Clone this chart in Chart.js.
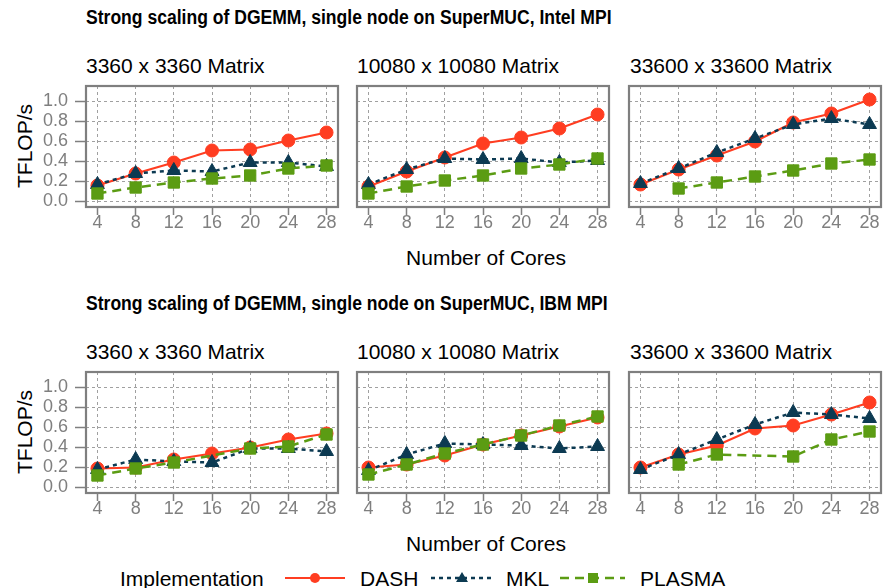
<!DOCTYPE html>
<html>
<head>
<meta charset="utf-8">
<script src="https://cdn.jsdelivr.net/npm/chart.js@4.4.1/dist/chart.umd.min.js"></script>
<style>
  html, body { margin: 0; padding: 0; background: #fff; }
  body { width: 888px; height: 588px; position: relative; overflow: hidden;
         font-family: "Liberation Sans", Arial, Helvetica, sans-serif; color: #000; }
  .txt { position: absolute; white-space: nowrap; line-height: 1; }
  .title { font-weight: bold; font-size: 19.5px; transform: scaleX(0.9); transform-origin: 0 50%; }
  .strip { font-size: 21px; }
  .ytitle { font-size: 21px; transform: translate(-50%, -50%) rotate(-90deg); }
  .xtitle { font-size: 21px; transform: translate(-50%, -50%); }
  canvas { position: absolute; }
  #legend { position: absolute; left: 120px; top: 565px; height: 24px; font-size: 21px; }
  #legend span, #legend svg { position: absolute; top: 0; }
</style>
</head>
<body>

<div class="txt title" style="left:86px; top:8px;">Strong scaling of DGEMM, single node on SuperMUC, Intel MPI</div>
<div class="txt strip" style="left:86px; top:55px;">3360 x 3360 Matrix</div>
<div class="txt strip" style="left:357px; top:55px;">10080 x 10080 Matrix</div>
<div class="txt strip" style="left:630px; top:55px;">33600 x 33600 Matrix</div>
<div class="txt ytitle" style="left:24px; top:146px;">TFLOP/s</div>
<div class="txt xtitle" style="left:486px; top:257px;">Number of Cores</div>

<div class="txt title" style="left:86px; top:294px;">Strong scaling of DGEMM, single node on SuperMUC, IBM MPI</div>
<div class="txt strip" style="left:86px; top:341px;">3360 x 3360 Matrix</div>
<div class="txt strip" style="left:357px; top:341px;">10080 x 10080 Matrix</div>
<div class="txt strip" style="left:630px; top:341px;">33600 x 33600 Matrix</div>
<div class="txt ytitle" style="left:24px; top:432px;">TFLOP/s</div>
<div class="txt xtitle" style="left:486px; top:543px;">Number of Cores</div>

<div id="legend">
  <span style="left:0px; top:2px;">Implementation</span>
  <svg style="left:165px; top:2px;" width="62" height="22"><line x1="0" y1="11" x2="60" y2="11" stroke="#ff3d21" stroke-width="2.2"/><circle cx="30" cy="11" r="5" fill="#ff3d21"/></svg>
  <span style="left:240px; top:2px;">DASH</span>
  <svg style="left:311px; top:2px;" width="64" height="22"><line x1="0" y1="11" x2="62" y2="11" stroke="#0c3a52" stroke-width="2.5" stroke-dasharray="4 4"/><polygon points="31,5 37,15 25,15" fill="#0c3a52"/></svg>
  <span style="left:386px; top:2px;">MKL</span>
  <svg style="left:440px; top:2px;" width="66" height="22"><line x1="0" y1="11" x2="65" y2="11" stroke="#5b9c13" stroke-width="2.5" stroke-dasharray="9 6"/><rect x="28" y="6" width="10" height="10" fill="#5b9c13"/></svg>
  <span style="left:520px; top:2px;">PLASMA</span>
</div>

<script>
// number of cores on the x axis
const cores = [4, 8, 12, 16, 20, 24, 28];
const yTicks = [0, 0.2, 0.4, 0.6, 0.8, 1.0];

// Intel MPI
const intel3360Dash   = [0.16, 0.28, 0.39, 0.51, 0.52, 0.61, 0.69];
const intel3360Mkl    = [0.17, 0.28, 0.31, 0.30, 0.39, 0.39, 0.35];
const intel3360Plasma = [0.08, 0.14, 0.19, 0.23, 0.26, 0.33, 0.36];

const intel10080Dash   = [0.15, 0.30, 0.44, 0.58, 0.64, 0.73, 0.87];
const intel10080Mkl    = [0.17, 0.32, 0.43, 0.42, 0.43, 0.39, 0.41];
const intel10080Plasma = [0.08, 0.15, 0.21, 0.26, 0.33, 0.37, 0.43];

const intel33600Dash   = [0.17, 0.32, 0.46, 0.60, 0.79, 0.88, 1.02];
const intel33600Mkl    = [0.18, 0.33, 0.49, 0.63, 0.77, 0.83, 0.77];
const intel33600Plasma = [null, 0.13, 0.19, 0.25, 0.31, 0.38, 0.42];

// IBM MPI
const ibm3360Dash   = [0.19, 0.20, 0.28, 0.34, 0.40, 0.48, 0.54];
const ibm3360Mkl    = [0.18, 0.28, 0.26, 0.25, 0.39, 0.39, 0.36];
const ibm3360Plasma = [0.12, 0.19, 0.25, null, 0.39, 0.41, 0.53];

const ibm10080Dash   = [0.20, 0.23, 0.32, 0.43, 0.52, 0.61, 0.70];
const ibm10080Mkl    = [0.17, 0.33, 0.44, 0.43, 0.42, 0.39, 0.41];
const ibm10080Plasma = [0.13, 0.23, 0.34, 0.43, 0.52, 0.62, 0.71];

const ibm33600Dash   = [0.20, 0.33, 0.42, 0.59, 0.62, 0.73, 0.85];
const ibm33600Mkl    = [0.18, 0.33, 0.48, 0.63, 0.75, 0.73, 0.69];
const ibm33600Plasma = [null, 0.23, 0.33, null, 0.31, 0.48, 0.56];

const RED = "#ff3d21", NAVY = "#0c3a52", GREEN = "#5b9c13", GREY = "#7f7f7f";

// left edges of the three columns, tops of the two rows
const colLeft = [86, 357, 629];
const rowTop = [86, 372];
const PW = 258, PH = 121;
const ML = 80, MT = 22, MR = 3, MB = 34;

// grey frame round the plot area
const panelBorder = {
    id: "panelBorder",
    afterDraw(chart) {
        const { ctx, chartArea: a } = chart;
        ctx.save();
        ctx.strokeStyle = GREY;
        ctx.lineWidth = 2.2;
        ctx.strokeRect(a.left, a.top, a.right - a.left, a.bottom - a.top);
        ctx.restore();
    }
};

function toPoints(vals) {
    return cores.map((c, i) => ({ x: c, y: vals[i] }));
}

function makePanel(row, col, dash, mkl, plasma) {
    const canvas = document.createElement("canvas");
    canvas.width = ML + PW + MR;
    canvas.height = MT + PH + MB;
    canvas.style.left = (colLeft[col] - ML) + "px";
    canvas.style.top = (rowTop[row] - MT) + "px";
    document.body.appendChild(canvas);

    const firstCol = col === 0;

    new Chart(canvas, {
        type: "line",
        data: {
            datasets: [
                {
                    label: "DASH", data: toPoints(dash), order: 2,
                    borderColor: RED, backgroundColor: RED, borderWidth: 2.2,
                    pointStyle: "circle", pointRadius: 6.5, pointBorderWidth: 1
                },
                {
                    label: "MKL", data: toPoints(mkl), order: 1,
                    borderColor: NAVY, backgroundColor: NAVY, borderWidth: 2.5, borderDash: [4, 4],
                    pointStyle: "triangle", pointRadius: 8, pointBorderWidth: 1
                },
                {
                    label: "PLASMA", data: toPoints(plasma), order: 0,
                    borderColor: GREEN, backgroundColor: GREEN, borderWidth: 2.5, borderDash: [9, 6],
                    pointStyle: "rect", pointRadius: 8, pointBorderWidth: 1
                }
            ]
        },
        options: {
            responsive: false,
            animation: false,
            spanGaps: true,
            layout: { padding: { left: 0, top: MT, right: MR, bottom: 0 } },
            elements: { line: { tension: 0 } },
            plugins: { legend: { display: false }, tooltip: { enabled: false } },
            scales: {
                x: {
                    type: "linear", min: 2.8, max: 29.2,
                    afterBuildTicks: s => { s.ticks = cores.map(v => ({ value: v })); },
                    afterFit: s => { s.height = MB; },
                    border: { display: false, dash: [3, 3] },
                    grid: { color: "#a0a0a0", lineWidth: 1, drawTicks: true, tickLength: 8,
                            tickColor: GREY, tickWidth: 1.5 },
                    ticks: { color: GREY, padding: -3, maxRotation: 0, autoSkip: false,
                             font: { family: "Liberation Sans", size: 18 } }
                },
                y: {
                    type: "linear", min: -0.055, max: 1.155,
                    afterBuildTicks: s => { s.ticks = yTicks.map(v => ({ value: v })); },
                    afterFit: s => { s.width = ML; },
                    border: { display: false, dash: [3, 3] },
                    grid: { color: "#a0a0a0", lineWidth: 1, drawTicks: firstCol, tickLength: 11,
                            tickColor: GREY, tickWidth: 1.5 },
                    ticks: { display: firstCol, color: GREY, padding: 7, autoSkip: false,
                             callback: v => v.toFixed(1),
                             font: { family: "Liberation Sans", size: 18 } }
                }
            }
        },
        plugins: [panelBorder]
    });
}

makePanel(0, 0, intel3360Dash, intel3360Mkl, intel3360Plasma);
makePanel(0, 1, intel10080Dash, intel10080Mkl, intel10080Plasma);
makePanel(0, 2, intel33600Dash, intel33600Mkl, intel33600Plasma);
makePanel(1, 0, ibm3360Dash, ibm3360Mkl, ibm3360Plasma);
makePanel(1, 1, ibm10080Dash, ibm10080Mkl, ibm10080Plasma);
makePanel(1, 2, ibm33600Dash, ibm33600Mkl, ibm33600Plasma);
</script>
</body>
</html>
